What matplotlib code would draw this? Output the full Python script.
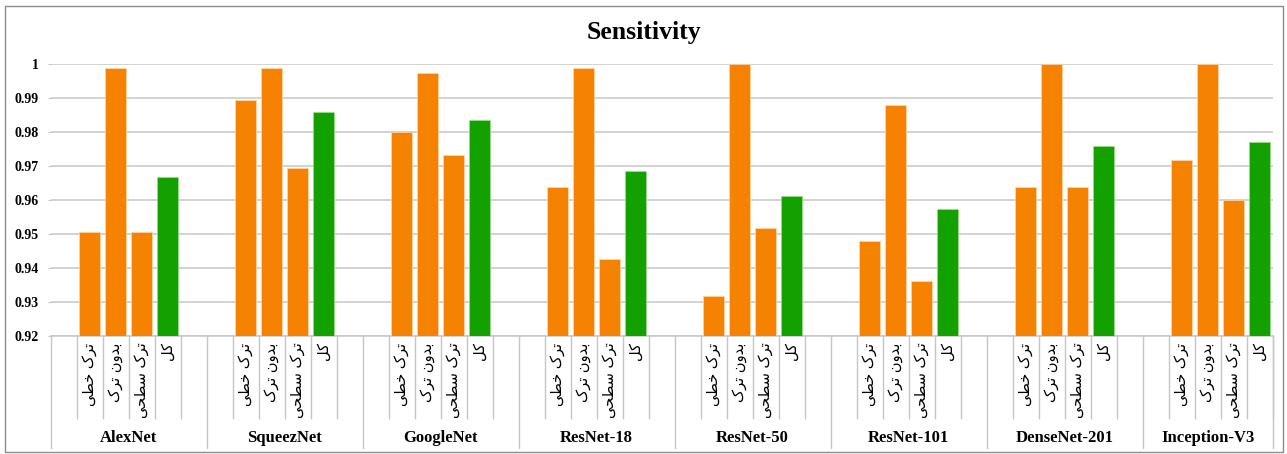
import numpy as np
import matplotlib
matplotlib.use("Agg")
import matplotlib.pyplot as plt
import matplotlib.ticker as mticker
import matplotlib.transforms as mtransforms
from matplotlib.patches import Rectangle

# ---------------------------------------------------------------------------
# Data
# ---------------------------------------------------------------------------
models = ["AlexNet", "SqueezNet", "GoogleNet", "ResNet-18",
          "ResNet-50", "ResNet-101", "DenseNet-201", "Inception-V3"]
categories = ["ترک خطی", "بدون ترک", "ترک سطحی", "کل"]

linear_crack = [0.9505, 0.9894, 0.9800, 0.9639, 0.9318, 0.9479, 0.9639, 0.9718]
no_crack = [0.9987, 0.9987, 0.9973, 0.9987, 1.0000, 0.9880, 1.0000, 1.0000]
surface_crack = [0.9505, 0.9693, 0.9731, 0.9425, 0.9518, 0.9360, 0.9639, 0.9599]
overall = [0.9667, 0.9858, 0.9835, 0.9684, 0.9612, 0.9572, 0.9759, 0.9771]

series = [linear_crack, no_crack, surface_crack, overall]
ORANGE = "#f58200"
GREEN = "#13a100"
bar_colors = [ORANGE, ORANGE, ORANGE, GREEN]

SERIF = "Liberation Serif"
GRID = "#c6c6c6"

# ---------------------------------------------------------------------------
# Minimal Persian shaping (matplotlib has no complex text layout)
# ---------------------------------------------------------------------------
# letter -> (isolated, final, initial, medial)
FORMS = {
    "ت": (0xFE95, 0xFE96, 0xFE97, 0xFE98),
    "ر": (0xFEAD, 0xFEAE, None, None),
    "ک": (0xFB8E, 0xFB8F, 0xFB90, 0xFB91),
    "خ": (0xFEA5, 0xFEA6, 0xFEA7, 0xFEA8),
    "ط": (0xFEC1, 0xFEC2, 0xFEC3, 0xFEC4),
    "ی": (0xFBFC, 0xFBFD, 0xFBFE, 0xFBFF),
    "ب": (0xFE8F, 0xFE90, 0xFE91, 0xFE92),
    "د": (0xFEA9, 0xFEAA, None, None),
    "و": (0xFEED, 0xFEEE, None, None),
    "ن": (0xFEE5, 0xFEE6, 0xFEE7, 0xFEE8),
    "س": (0xFEB1, 0xFEB2, 0xFEB3, 0xFEB4),
    "ح": (0xFEA1, 0xFEA2, 0xFEA3, 0xFEA4),
    "ل": (0xFEDD, 0xFEDE, 0xFEDF, 0xFEE0),
}


def shape_fa(text):
    out = []
    for i, ch in enumerate(text):
        if ch not in FORMS:
            out.append(ch)
            continue
        iso, fin, ini, med = FORMS[ch]
        prev = text[i - 1] if i > 0 else None
        nxt = text[i + 1] if i + 1 < len(text) else None
        joins_prev = prev in FORMS and FORMS[prev][2] is not None
        joins_next = nxt in FORMS and ini is not None
        if joins_prev and joins_next:
            cp = med
        elif joins_prev:
            cp = fin
        elif joins_next:
            cp = ini
        else:
            cp = iso
        out.append(chr(cp))
    return "".join(reversed(out))


# ---------------------------------------------------------------------------
# Figure
# ---------------------------------------------------------------------------
W, H = 1287, 454
fig = plt.figure(figsize=(W / 100, H / 100), dpi=100)
ax = fig.add_axes([50.7 / W, 118.3 / H, 1222 / W, 271.7 / H])

n_groups = len(models)
slots_per_group = 6
n_slots = slots_per_group * n_groups - 1
bar_w = 0.82

for g in range(n_groups):
    base = g * slots_per_group
    for k, vals in enumerate(series):
        ax.bar(base + 1 + k, vals[g], width=bar_w, color=bar_colors[k],
               edgecolor="#ffd9a8" if k < 3 else "#9be08a", linewidth=0.5,
               zorder=3)

ax.set_xlim(-0.5, n_slots - 0.5)
ax.set_ylim(0.92, 1.0)
ax.set_yticks(np.arange(0.92, 1.0001, 0.01))
ax.yaxis.set_major_formatter(mticker.FuncFormatter(lambda v, _: f"{round(v, 2):g}"))
ax.set_xticks([])
ax.tick_params(axis="y", length=2, color=GRID, pad=6.4, labelsize=10)
for lab in ax.get_yticklabels():
    lab.set_fontfamily(SERIF)
    lab.set_fontweight("bold")

ax.yaxis.grid(True, color=GRID, linewidth=1.1, zorder=0)
ax.set_axisbelow(True)
for side in ["top", "right", "left"]:
    ax.spines[side].set_visible(False)
ax.spines["bottom"].set_color(GRID)
ax.spines["bottom"].set_linewidth(1.1)

# ---------------------------------------------------------------------------
# Two-level category axis
# ---------------------------------------------------------------------------
trans = mtransforms.blended_transform_factory(ax.transData, ax.transAxes)
inner_bottom = -0.303
outer_bottom = -0.413

group_edges = [g * slots_per_group - 0.5 for g in range(n_groups)] + [n_slots - 0.5]
for x in group_edges:
    ax.plot([x, x], [0, outer_bottom], color=GRID, lw=1.0,
            transform=trans, clip_on=False)

for g in range(n_groups):
    base = g * slots_per_group
    for k in range(5):
        x = base + 0.5 + k
        ax.plot([x, x], [0, inner_bottom], color=GRID, lw=1.0,
                transform=trans, clip_on=False)
    for k, cat in enumerate(categories):
        ax.text(base + 1 + k, -0.025, shape_fa(cat), rotation=90,
                ha="center", va="top", fontsize=10.5, family="DejaVu Sans",
                transform=trans, clip_on=False)
    center = (group_edges[g] + group_edges[g + 1]) / 2
    ax.text(center, -0.3765, models[g], ha="center", va="center",
            fontsize=12, fontweight="bold", family=SERIF,
            transform=trans, clip_on=False)

# ---------------------------------------------------------------------------
# Title and chart border
# ---------------------------------------------------------------------------
fig.text(0.5, 1 - 33 / H, "Sensitivity", ha="center", va="center",
         fontsize=18.5, fontweight="bold", family=SERIF)

fig.patches.append(Rectangle((5 / W, 2 / H), 1278 / W, 446 / H,
                             transform=fig.transFigure, fill=False,
                             edgecolor="#8c8c8c", linewidth=1.0))

fig.savefig("out.png", dpi=100)
